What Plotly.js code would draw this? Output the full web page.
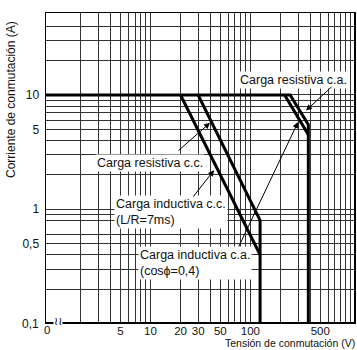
<!DOCTYPE html>
<html>
<head>
<meta charset="utf-8">
<script src="https://cdn.plot.ly/plotly-3.0.1.min.js"></script>
<style>html,body{margin:0;padding:0;background:#fff;}#chart{width:357px;height:350px;}</style>
</head>
<body>
<div id="chart"></div>
<script>
// ---- data (switching voltage V, switching current A) ----
const resDC_V = [0.9, 30, 125, 125];
const resDC_A = [10, 10, 0.8, 0.1];
const indDC_V = [20, 125];
const indDC_A = [10, 0.4];
const resAC_V = [30, 250, 380, 380];
const resAC_A = [10, 10, 5.5, 0.1];
const indAC_V = [220, 380];
const indAC_A = [10, 4.5];

// ---- grid / tick labels ----
const xGrid = [2,3,4,5,6,7,8,9,10,20,30,40,50,60,70,80,90,100,200,300,400,500,600,700,800,900,1000];
const xLabels = {5:'5',10:'10',20:'20',30:'30',50:'50',100:'100',500:'500'};
const yGrid = [0.2,0.3,0.4,0.5,0.6,0.8,0.9,1,2,3,4,5,6,7,8,9,10,20,30,40];
const yLabels = {0.5:'0,5',1:'1',5:'5',10:'10'};

const W = 357, H = 350, L = 46, R = 3, T = 13, B = 28;
const pw = W - L - R, ph = H - T - B;
function px(x){ return (x - L) / pw; }
function py(y){ return (H - B - y) / ph; }

const font = 'Liberation Sans, Arial, Helvetica, sans-serif';
const lineStyle = {color:'#000', width:3};
const traces = [
  {x:resDC_V, y:resDC_A, mode:'lines', line:lineStyle, hoverinfo:'skip'},
  {x:indDC_V, y:indDC_A, mode:'lines', line:lineStyle, hoverinfo:'skip'},
  {x:resAC_V, y:resAC_A, mode:'lines', line:lineStyle, hoverinfo:'skip'},
  {x:indAC_V, y:indAC_A, mode:'lines', line:lineStyle, hoverinfo:'skip'}
];

const tf = {family:font, size:12, color:'#111'};
const xf = {family:font, size:11.5, color:'#111'};
const lf = {family:font, size:12.5, color:'#111'};
function box(text, x, y, xanchor){
  return {xref:'paper', yref:'paper', x:px(x), y:py(y), text:text, showarrow:false,
    xanchor:xanchor||'left', yanchor:'middle', align:'left', bgcolor:'#fff', borderpad:1, font:lf};
}
function arrow(xv, yv, ax, ay){
  return {xref:'x', yref:'y', x:Math.log10(xv), y:Math.log10(yv), ax:ax, ay:ay, axref:'pixel', ayref:'pixel',
    text:'', showarrow:true, arrowhead:2, arrowsize:1.2, arrowwidth:1, arrowcolor:'#000'};
}

const annotations = [
  box('Carga resistiva c.a.', 238, 80),
  box('Carga resistiva c.c.', 95, 163),
  box('Carga inductiva c.c.<br>(L/R=7ms)', 114, 212),
  box('Carga inductiva c.a.<br>(cos\u03d5=0,4)', 138, 263),
  arrow(360, 7.3, 27, -25),
  arrow(39.4, 5.7, -33, 29),
  arrow(43.3, 2.2, -22, 28),
  arrow(300, 5.8, -60, 126),
  {xref:'paper', yref:'paper', x:px(41), y:py(324), text:'0,1', showarrow:false, xanchor:'right', yanchor:'middle', font:tf},
  {xref:'paper', yref:'paper', x:px(47), y:py(330), text:'0', showarrow:false, xanchor:'center', yanchor:'middle', font:xf},
  {xref:'paper', yref:'paper', x:px(58), y:py(321), text:'\u2240\u2240', showarrow:false, xanchor:'center', yanchor:'middle', bgcolor:'#fff', borderpad:0, font:{family:'DejaVu Sans', size:11, color:'#000'}},
  {xref:'paper', yref:'paper', x:px(11), y:py(100), text:'Corriente de conmutación (A)', textangle:-90, showarrow:false, xanchor:'center', yanchor:'middle', font:tf},
  {xref:'paper', yref:'paper', x:px(356), y:py(343), text:'Tensión de conmutación (V)', showarrow:false, xanchor:'right', yanchor:'middle', borderpad:0, font:{family:font, size:10.5, color:'#111'}}
];

const layout = {
  width:W, height:H, margin:{l:L, r:R, t:T, b:B}, showlegend:false,
  paper_bgcolor:'#fff', plot_bgcolor:'#fff',
  xaxis:{type:'log', range:[-0.046, 3.037], tickmode:'array', tickvals:xGrid,
    ticktext:xGrid.map(v => xLabels[v] || ''), showgrid:true, gridcolor:'#333', gridwidth:1,
    showline:true, mirror:true, linecolor:'#000', linewidth:1.5, zeroline:false,
    ticks:'', ticklabelstandoff:-2, tickfont:xf, fixedrange:true},
  yaxis:{type:'log', range:[-0.986, 1.717], tickmode:'array', tickvals:yGrid,
    ticktext:yGrid.map(v => yLabels[v] || ''), showgrid:true, gridcolor:'#333', gridwidth:1,
    showline:true, mirror:true, linecolor:'#000', linewidth:1.5, zeroline:false,
    ticks:'outside', ticklen:3, tickcolor:'rgba(0,0,0,0)', tickfont:tf, fixedrange:true},
  annotations:annotations
};

Plotly.newPlot('chart', traces, layout, {displayModeBar:false, staticPlot:true});
</script>
</body>
</html>
